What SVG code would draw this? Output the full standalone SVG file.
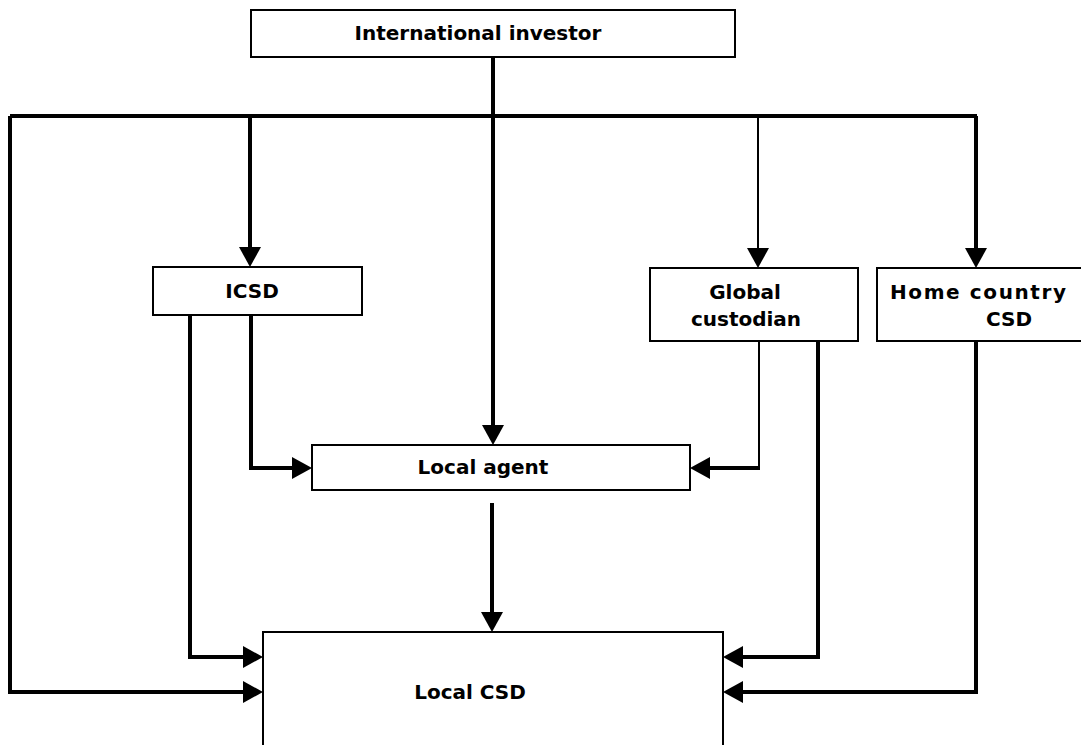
<svg xmlns="http://www.w3.org/2000/svg" width="1081" height="745" viewBox="0 0 1081 745">
<defs>
<style>
.box{fill:#fff;stroke:#000;stroke-width:2}
.t{font-family:"DejaVu Sans",Verdana,sans-serif;font-weight:bold;font-size:20px;fill:#000;text-anchor:middle}
.c{fill:none;stroke:#000;stroke-width:4;stroke-linejoin:miter}
.thin{stroke-width:2}
</style>
<marker id="ah" markerUnits="userSpaceOnUse" markerWidth="20" markerHeight="22" refX="10" refY="11" orient="auto" viewBox="0 0 20 22">
<path d="M0,0 L20,11 L0,22 z" fill="#000"/>
</marker>
</defs>
<rect width="1081" height="745" fill="#fff"/>
<g id="connectors">
<path class="c" d="M493,57 V435" marker-end="url(#ah)"/>
<path class="c" d="M10,116 H977"/>
<path class="c" d="M10,116 V692 H253" marker-end="url(#ah)"/>
<path class="c" d="M250,116 V257" marker-end="url(#ah)"/>
<path class="c thin" d="M758,116 V258" marker-end="url(#ah)"/>
<path class="c" d="M976,116 V258" marker-end="url(#ah)"/>
<path class="c" d="M190,315 V657 H253" marker-end="url(#ah)"/>
<path class="c" d="M251,315 V468 H302" marker-end="url(#ah)"/>
<path class="c thin" d="M759,341 V468"/>
<path class="c" d="M760,468 H700" marker-end="url(#ah)"/>
<path class="c" d="M818,341 V657 H733" marker-end="url(#ah)"/>
<path class="c" d="M976,341 V692 H733" marker-end="url(#ah)"/>
<path class="c" d="M492,503 V622" marker-end="url(#ah)"/>
</g>
<g id="international-investor">
<rect class="box" x="251" y="10" width="484" height="47"/>
<text class="t" x="478" y="40">International investor</text>
</g>
<g id="icsd">
<rect class="box" x="153" y="267" width="209" height="48"/>
<text class="t" x="252" y="298">ICSD</text>
</g>
<g id="global-custodian">
<rect class="box" x="650" y="268" width="208" height="73"/>
<text class="t" x="745" y="299">Global</text>
<text class="t" x="746" y="326">custodian</text>
</g>
<g id="home-country-csd">
<rect class="box" x="877" y="268" width="210" height="73"/>
<text class="t" x="978" y="299" textLength="176" lengthAdjust="spacing">Home country</text>
<text class="t" x="1009" y="326">CSD</text>
</g>
<g id="local-agent">
<rect class="box" x="312" y="445" width="378" height="45"/>
<text class="t" x="483" y="474">Local agent</text>
</g>
<g id="local-csd">
<path class="box" d="M263,746 V632 H723 V746"/>
<text class="t" x="470" y="699">Local CSD</text>
</g>
</svg>
